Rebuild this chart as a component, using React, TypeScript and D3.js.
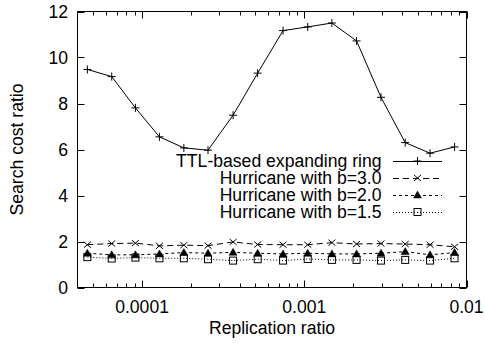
import React from "react";
import * as d3 from "d3";

const replication = [4.6e-5, 6.5e-5, 9.1e-5, 1.28e-4, 1.81e-4, 2.55e-4, 3.64e-4, 5.16e-4, 7.4e-4, 1.05e-3, 1.48e-3, 2.1e-3, 2.97e-3, 4.19e-3, 5.96e-3, 8.44e-3];
const ttl = [9.48, 9.17, 7.81, 6.55, 6.07, 5.97, 7.49, 9.32, 11.17, 11.33, 11.5, 10.72, 8.27, 6.3, 5.84, 6.11];
const hurricane30 = [1.86, 1.91, 1.93, 1.81, 1.84, 1.82, 1.98, 1.87, 1.86, 1.86, 1.95, 1.89, 1.91, 1.89, 1.86, 1.77];
const hurricane20 = [1.49, 1.42, 1.42, 1.46, 1.52, 1.49, 1.53, 1.49, 1.46, 1.49, 1.46, 1.46, 1.49, 1.56, 1.42, 1.52];
const hurricane15 = [1.32, 1.26, 1.3, 1.27, 1.27, 1.23, 1.17, 1.23, 1.17, 1.24, 1.2, 1.2, 1.17, 1.2, 1.17, 1.27];

const seriesNames = ["TTL-based expanding ring", "Hurricane with b=3.0", "Hurricane with b=2.0", "Hurricane with b=1.5"];
const yTicks = [0, 2, 4, 6, 8, 10, 12];
const xMajorTicks = [1e-4, 1e-3, 1e-2];
const xTickLabels = ["0.0001", "0.001", "0.01"];
const xDomain = [4e-5, 1e-2];
const yDomain = [0, 12];

const FONT = "'Liberation Sans', Arial, Helvetica, sans-serif";
const FS = 17.6;

const L = 77.5, R = 466.5, T = 11.5, B = 287.5;

function Marker({ kind, x, y }: { kind: number; x: number; y: number }) {
  const s = { stroke: "#000", strokeWidth: 1, fill: "none" } as const;
  if (kind === 0) {
    return <path d={`M${x - 4},${y}H${x + 4}M${x},${y - 4}V${y + 4}`} {...s} />;
  }
  if (kind === 1) {
    return <path d={`M${x - 3.5},${y - 3}L${x + 3.5},${y + 3}M${x - 3.5},${y + 3}L${x + 3.5},${y - 3}`} {...s} />;
  }
  if (kind === 2) {
    return <path d={`M${x},${y - 4}L${x + 4},${y + 3}L${x - 4},${y + 3}Z`} fill="#000" stroke="#000" strokeWidth={0.5} />;
  }
  return <rect x={x - 3.5} y={y - 3.5} width={7} height={7} {...s} />;
}

export default function App() {
  const x = d3.scaleLog().domain(xDomain).range([L, R]);
  const y = d3.scaleLinear().domain(yDomain).range([B, T]);
  const allSeries = [ttl, hurricane30, hurricane20, hurricane15];
  const dashes = [undefined, "6,4", "3,3", "1,2"];
  const line = d3.line<[number, number]>().x(d => x(d[0])).y(d => y(d[1]));

  const minor: number[] = [];
  for (let e = -5; e <= -2; e++) {
    for (let k = 2; k <= 9; k++) {
      const v = k * Math.pow(10, e);
      if (v > xDomain[0] && v < xDomain[1]) minor.push(v);
    }
  }

  const legendY = [161, 178, 195, 212];
  const legendTextX = 381.5;
  const legendLine = [393, 442];

  return (
    <div style={{ position: "fixed", left: 0, top: 0 }}>
      <svg width={485} height={343} style={{ display: "block", background: "#fff" }} fontFamily={FONT}>
        <rect x={0} y={0} width={485} height={343} fill="#fff" />
        {yTicks.map(t => (
          <g key={"y" + t}>
            <line x1={L} x2={L + 7} y1={Math.round(y(t)) + 0.5} y2={Math.round(y(t)) + 0.5} stroke="#000" />
            <line x1={R - 7} x2={R} y1={Math.round(y(t)) + 0.5} y2={Math.round(y(t)) + 0.5} stroke="#000" />
            <text x={68} y={y(t)} dy="0.36em" textAnchor="end" fontSize={FS}>{t}</text>
          </g>
        ))}
        {minor.map(v => (
          <g key={"m" + v}>
            <line x1={Math.round(x(v)) + 0.5} x2={Math.round(x(v)) + 0.5} y1={B} y2={B - 4} stroke="#000" />
            <line x1={Math.round(x(v)) + 0.5} x2={Math.round(x(v)) + 0.5} y1={T} y2={T + 4} stroke="#000" />
          </g>
        ))}
        {xMajorTicks.map((v, i) => (
          <g key={"M" + v}>
            <line x1={Math.round(x(v)) + 0.5} x2={Math.round(x(v)) + 0.5} y1={B} y2={B - 7} stroke="#000" />
            <line x1={Math.round(x(v)) + 0.5} x2={Math.round(x(v)) + 0.5} y1={T} y2={T + 7} stroke="#000" />
            <text x={x(v)} y={312.5} textAnchor="middle" fontSize={FS}>{xTickLabels[i]}</text>
          </g>
        ))}
        <rect x={L} y={T} width={R - L} height={B - T} fill="none" stroke="#000" />
        {allSeries.map((vals, si) => {
          const pts = vals.map((v, i) => [replication[i], v] as [number, number]);
          return (
            <g key={"s" + si}>
              <path d={line(pts) || ""} fill="none" stroke="#000" strokeWidth={1} strokeDasharray={dashes[si]} />
              {pts.map((p, i) => <Marker key={i} kind={si} x={x(p[0])} y={y(p[1])} />)}
            </g>
          );
        })}
        {seriesNames.map((name, i) => (
          <g key={"l" + i}>
            <text x={legendTextX} y={legendY[i]} dy="0.36em" textAnchor="end" fontSize={FS}>{name}</text>
            <line x1={legendLine[0]} x2={legendLine[1]} y1={legendY[i] + 0.5} y2={legendY[i] + 0.5} stroke="#000" strokeDasharray={dashes[i]} />
            <Marker kind={i} x={(legendLine[0] + legendLine[1]) / 2} y={legendY[i]} />
          </g>
        ))}
        <text x={272} y={333.5} textAnchor="middle" fontSize={FS}>Replication ratio</text>
        <text transform={`translate(22.5,${(T + B) / 2}) rotate(-90)`} textAnchor="middle" fontSize={FS}>Search cost ratio</text>
      </svg>
    </div>
  );
}
